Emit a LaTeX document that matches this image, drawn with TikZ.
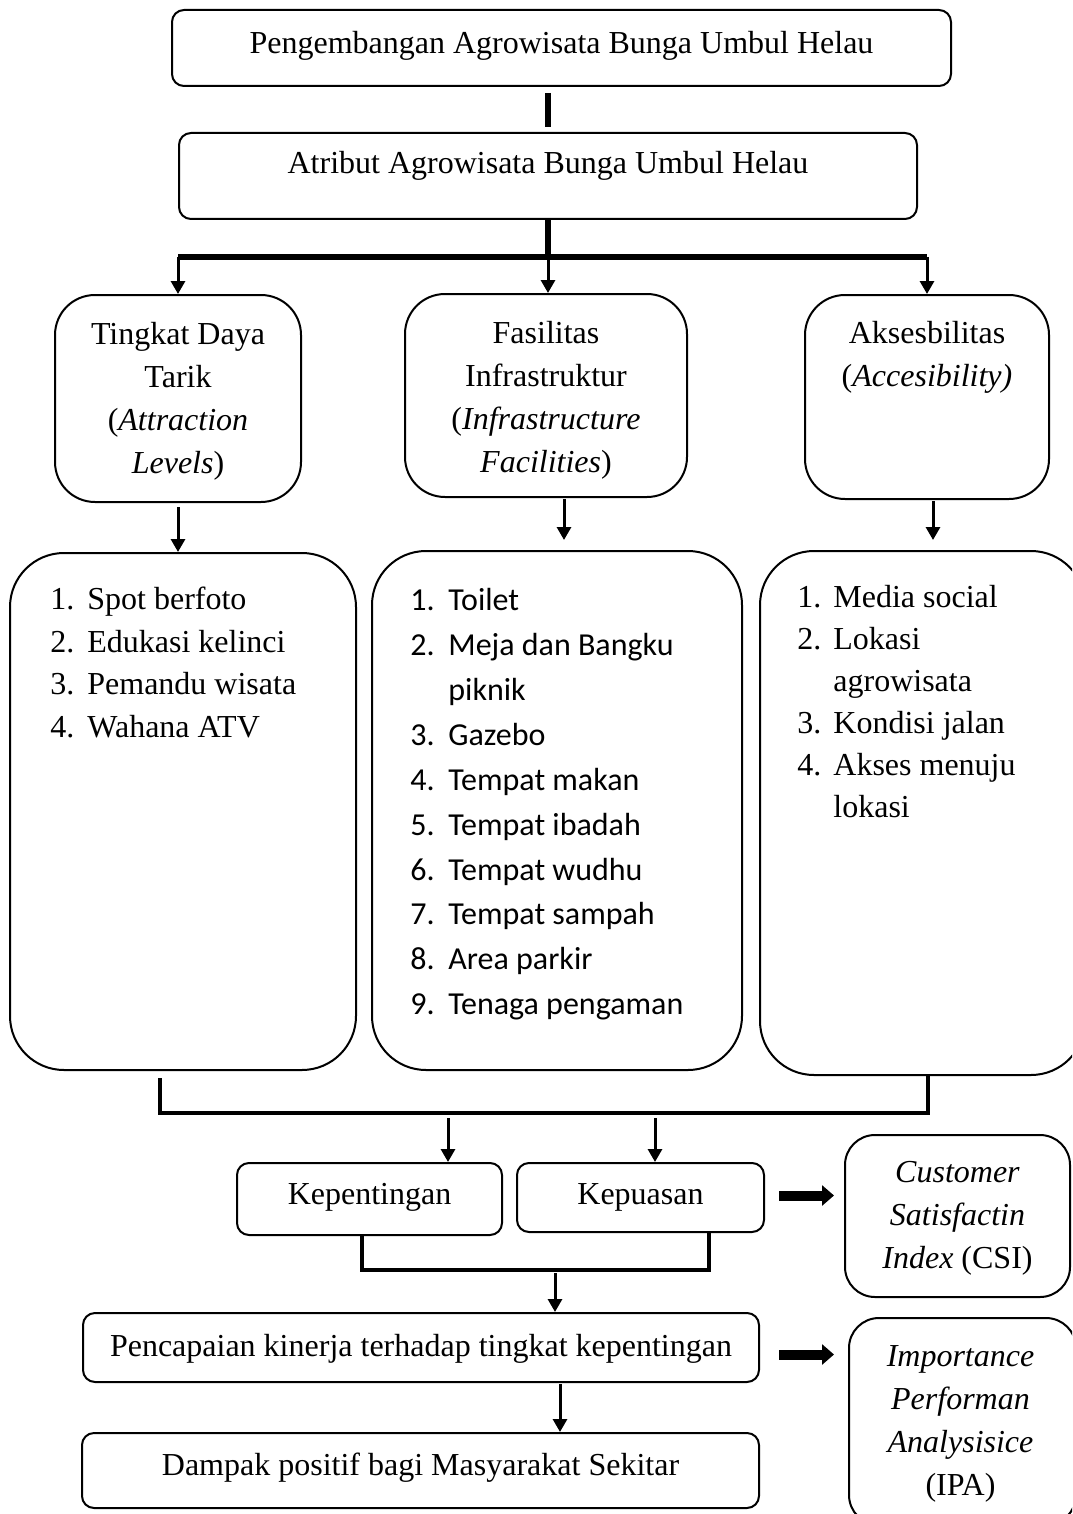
\documentclass[tikz,border=0pt]{standalone}
\usepackage{fontspec}
\setmainfont{Liberation Serif}
\newfontfamily\calibri{Carlito}
\usetikzlibrary{arrows.meta}
\usetikzlibrary{calc}
\usetikzlibrary{fit}
\tikzset{basic/.style={draw,line width=1pt,inner sep=0pt,
                       text badly centered}}
\tikzset{txt/.style={align=center,inner sep=0pt,font=\fontsize{16}{21.5}\selectfont}}
\tikzset{box/.style={basic,rounded corners=6pt}}
\newcommand{\num}[2][18.5pt]{\makebox[#1][l]{#2}}

\begin{document}
\begin{tikzpicture}[x=0.5pt,y=-0.5pt]
  \path[use as bounding box,clip] (0,0) rectangle (1072,1514);

  \tikzstyle{tall}=[basic,rounded corners=20pt]
  \tikzstyle{list_box}=[basic,rounded corners=27pt]
  \tikzstyle{items}=[anchor=north west,align=left,inner sep=0pt]
  \tikzstyle{method}=[basic,rounded corners=15pt]
  \tikzstyle{bar}=[line width=2.6pt]
  \tikzstyle{arr}=[line width=1.5pt,-{Triangle[length=6.5pt,width=7pt]}]
  \tikzstyle{fat}=[line width=5pt,-{Triangle[length=6pt,width=10pt]}]

  \node (development) [box,fit={(172,10) (951,86)},
    label={[txt,yshift=1pt]center:Pengembangan Agrowisata Bunga Umbul Helau}] {};
  \node (attribute) [box,fit={(179,133) (917,219)}] {};
  \node at (548,166) [txt] {Atribut Agrowisata Bunga Umbul Helau};

  \node (attraction) [tall,fit={(55,295) (301,502)},
    label={[txt,yshift=-1.5pt]center:Tingkat Daya\\Tarik\\(\textit{Attraction}\\\textit{Levels})}] {};
  \node (facilities) [tall,fit={(405,294) (687,497)},
    label={[txt,yshift=-2.5pt]center:Fasilitas\\Infrastruktur\\(\textit{Infrastructure}\\\textit{Facilities})}] {};
  \node (access) [tall,fit={(805,295) (1049,499)}] {};
  \node at (927,357) [txt] {Aksesbilitas\\(\textit{Accesibility)}};

  \node (attraction_list) [list_box,fit={(10,553) (356,1070)}] {};
  \node (facilities_list) [list_box,fit={(372,551) (742,1070)}] {};
  \node (access_list) [list_box,fit={(760,551) (1085,1075)}] {};

  \node at (50,587) [items,font=\fontsize{16}{21.25}\selectfont]
    {\num{1.}Spot berfoto\\\num{2.}Edukasi kelinci\\\num{3.}Pemandu wisata\\\num{4.}Wahana ATV};
  \node at (410,588) [items,font=\calibri\fontsize{16}{22.45}\selectfont]
    {\num[19pt]{1.}Toilet\\\num[19pt]{2.}Meja dan Bangku\\\num[19pt]{}piknik\\\num[19pt]{3.}Gazebo\\
     \num[19pt]{4.}Tempat makan\\\num[19pt]{5.}Tempat ibadah\\\num[19pt]{6.}Tempat wudhu\\
     \num[19pt]{7.}Tempat sampah\\\num[19pt]{8.}Area parkir\\\num[19pt]{9.}Tenaga pengaman};
  \node at (797,585) [items,font=\fontsize{16}{21}\selectfont]
    {\num[18pt]{1.}Media social\\\num[18pt]{2.}Lokasi\\\num[18pt]{}agrowisata\\\num[18pt]{3.}Kondisi jalan\\
     \num[18pt]{4.}Akses menuju\\\num[18pt]{}lokasi};

  \node (importance) [box,fit={(237,1163) (502,1235)},label={[txt,yshift=1pt]center:Kepentingan}] {};
  \node (satisfaction) [box,fit={(517,1163) (764,1232)},label={[txt]center:Kepuasan}] {};
  \node (performance) [box,fit={(83,1313) (759,1382)},
    label={[txt,yshift=-0.5pt]center:Pencapaian kinerja terhadap tingkat kepentingan}] {};
  \node (impact) [box,fit={(82,1433) (759,1508)},
    label={[txt,yshift=1.5pt]center:Dampak positif bagi Masyarakat Sekitar}] {};

  \node (csi) [method,fit={(845,1135) (1070,1297)},
    label={[txt,yshift=-1pt]center:\textit{Customer}\\\textit{Satisfactin}\\\textit{Index} (CSI)}] {};
  \node (ipa) [method,fit={(849,1318) (1076,1525)},
    label={[txt,xshift=-1pt,yshift=-1pt]center:\textit{Importance}\\\textit{Performan}\\\textit{Analysisice}\\(IPA)}] {};

  \coordinate (split) at (548,257);
  \coordinate (merge_L) at (160,1113);
  \coordinate (merge_R) at (928,1113);
  \coordinate (in_1) at (448,1118);
  \coordinate (in_2) at (655,1118);
  \coordinate (join_L) at (362,1270);
  \coordinate (join_R) at (709,1270);
  \coordinate (down_1) at (555,1273);
  \coordinate (down_2) at (560,1384);
  \coordinate (fac_down) at (564,499);
  \coordinate (acc_down) at (933,501);

  \draw[bar] ($(development.south -| split)+(0,6)$) -- ($(attribute.north -| split)+(0,-5)$);
  \draw[bar] (attribute.south -| split) -- (split);
  \draw[bar] (attraction.north |- split) -- (access.north |- split);

  \draw[arr] (attraction.north |- split) -- (attraction.north);
  \draw[arr] (split) -- (split |- facilities.north);
  \draw[arr] (access.north |- split) -- (access.north);

  \draw[arr] ($(attraction.south)+(0,4)$) -- (attraction.south |- attraction_list.north);
  \draw[arr] (fac_down) -- ($(fac_down |- facilities_list.north)+(0,-10)$);
  \draw[arr] (acc_down) -- ($(acc_down |- access_list.north)+(0,-10)$);

  \draw[bar,line width=2.2pt] ($(attraction_list.south -| merge_L)+(0,7)$) |- (merge_R) -- (access_list.south -| merge_R);
  \draw[arr] (in_1) -- (in_1 |- importance.north);
  \draw[arr] (in_2) -- (in_2 |- satisfaction.north);

  \draw[bar,line width=2pt] (importance.south -| join_L) |- (join_R) -- (satisfaction.south -| join_R);
  \draw[arr] (down_1) -- (down_1 |- performance.north);
  \draw[arr] (down_2) -- (down_2 |- impact.north);

  \draw[fat] ($(satisfaction.east)+(14,-2)$) coordinate (f_1) -- ($(csi.west |- f_1)+(-10,0)$);
  \draw[fat] ($(performance.east)+(19,7)$) coordinate (f_2) -- ($(ipa.west |- f_2)+(-14,0)$);

\end{tikzpicture}
\end{document}
